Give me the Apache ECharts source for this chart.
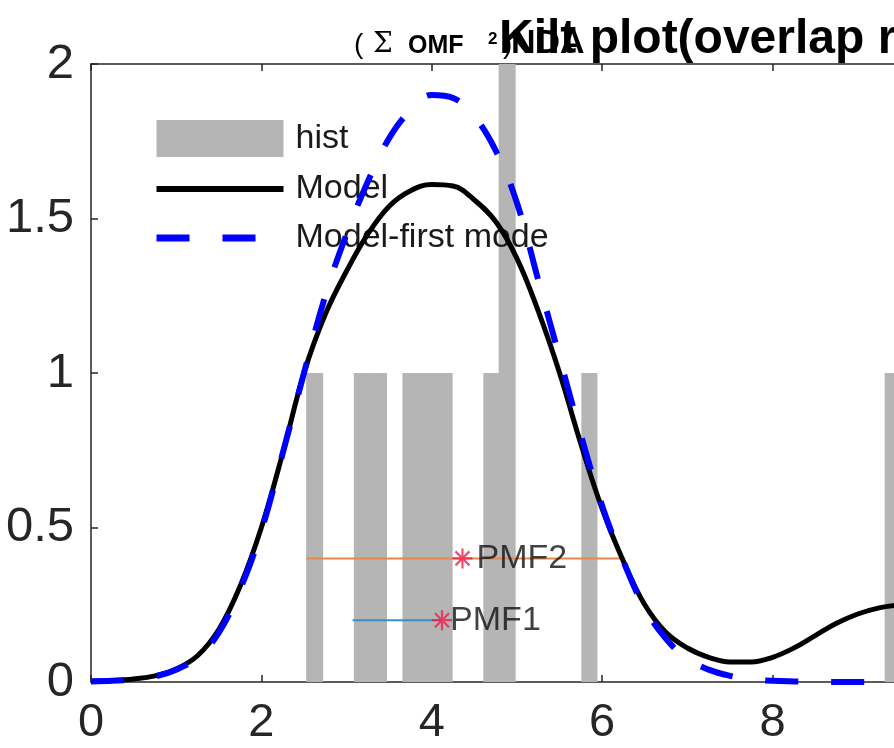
<!DOCTYPE html>
<html>
<head>
<meta charset="utf-8">
<script src="https://cdn.jsdelivr.net/npm/echarts@6/dist/echarts.min.js"></script>
<style>html,body{margin:0;padding:0;background:#fff;}#c{width:894px;height:748px;}</style>
</head>
<body>
<div id="c"></div>
<script>
// ---- data ----
const xGrid = [0,0.25,0.5,0.75,1,1.25,1.5,1.75,2,2.25,2.5,2.75,3,3.25,3.5,3.75,4,4.25,4.5,4.75,5,5.25,5.5,5.75,6,6.25,6.5,6.75,7,7.25,7.5,7.75,8,8.25,8.5,8.75,9,9.25,9.5,9.75];
const modelY = [0.003,0.005,0.01,0.02,0.042,0.085,0.17,0.31,0.5,0.74,1.0,1.19,1.33,1.45,1.54,1.59,1.61,1.605,1.56,1.49,1.37,1.2,1.0,0.77,0.56,0.39,0.25,0.16,0.11,0.08,0.065,0.065,0.08,0.11,0.15,0.19,0.22,0.24,0.25,0.255];
const firstModeY = [0.002,0.004,0.008,0.018,0.04,0.08,0.16,0.3,0.49,0.74,1.0,1.25,1.45,1.62,1.76,1.85,1.9,1.89,1.83,1.72,1.55,1.3,1.05,0.8,0.57,0.39,0.24,0.14,0.075,0.04,0.02,0.009,0.004,0.002,0.001,0,0,0,0,0];
const histStart = [2.53,3.09,3.28,3.66,3.85,4.04,4.61,4.79,5.76,9.32];
const histEnd   = [2.72,3.28,3.47,3.85,4.04,4.24,4.79,4.98,5.94,9.51];
const histCount = [1,1,1,1,1,1,1,2,1,1];
const pmfNames = ['PMF2','PMF1'];
const pmfStart = [2.53,3.07];
const pmfEnd   = [6.27,4.12];
const pmfLevel = [0.4,0.2];
const pmfPeak  = [4.36,4.12];
const xTicks = [0,2,4,6,8];
const yTicks = [0,0.5,1,1.5,2];

const FONT = '"Liberation Sans", Arial, Helvetica, sans-serif';
const chart = echarts.init(document.getElementById('c'), null, {renderer:'canvas'});

const histData = histStart.map((s,i)=>[s, histEnd[i], histCount[i]]);
const modelData = xGrid.map((x,i)=>[x, modelY[i]]);
const firstData = xGrid.map((x,i)=>[x, firstModeY[i]]);
const pmfColors = ['#e8874a','#3a8fc8'];
const starPath = 'path://M10,0L10,20M0,10L20,10M3,3L17,17M3,17L17,3';

const series = [
  {
    name:'hist', type:'custom', z:1,
    itemStyle:{color:'#b5b5b5'},
    encode:{x:[0,1], y:2},
    data: histData,
    renderItem:function(params, api){
      const a = api.coord([api.value(0), 0]);
      const b = api.coord([api.value(1), api.value(2)]);
      return {type:'rect', shape:{x:a[0]-0.4, y:b[1], width:b[0]-a[0]+0.8, height:a[1]-b[1]}, style:{fill:'#b5b5b5'}};
    }
  }
];
pmfNames.forEach((n,i)=>{
  series.push({
    name:n+'line', type:'line', z:3, silent:true, symbol:'none',
    lineStyle:{color:pmfColors[i], width:2},
    data:[[pmfStart[i], pmfLevel[i]], [pmfEnd[i], pmfLevel[i]]]
  });
});
series.push({
  name:'Model', type:'line', z:4, smooth:0.4, symbol:'none', showSymbol:false,
  lineStyle:{color:'#000', width:5}, itemStyle:{color:'#000'},
  data: modelData
});
series.push({
  name:'Model-first mode', type:'line', z:5, smooth:0.4, symbol:'none', showSymbol:false,
  lineStyle:{color:'#0000ff', width:6, type:[33,33]}, itemStyle:{color:'#0000ff'},
  data: firstData
});
series.push({
  name:'pmfStars', type:'scatter', z:6, silent:true,
  symbol: starPath, symbolSize:20,
  itemStyle:{color:'rgba(0,0,0,0)', borderColor:'#f0204a', borderWidth:2.2},
  data: pmfNames.map((n,i)=>({
    value:[pmfPeak[i], pmfLevel[i]],
    label:{show:true, formatter:n, position:'right', distance: i===0 ? 3 : -3,
      fontFamily:FONT, fontSize:34, color:'#111'}
  }))
});

chart.setOption({
  animation:false,
  backgroundColor:'#ffffff',
  grid:{left:91, width:823, top:64, bottom:66, containLabel:false, outerBoundsMode:'none'},
  xAxis:[
    {type:'value', min:0, max:9.66, interval:2, position:'bottom',
     axisLine:{show:true, lineStyle:{color:'#262626', width:1.5}},
     axisTick:{show:true, inside:true, length:7, lineStyle:{color:'#262626', width:1.5}},
     axisLabel:{show:true, margin:18, fontFamily:FONT, fontSize:47, color:'#262626',
       formatter:function(v){return xTicks.indexOf(v)>=0 ? String(v) : '';}},
     splitLine:{show:false}},
    {type:'value', min:0, max:9.66, interval:2, position:'top',
     axisLine:{show:true, onZero:false, lineStyle:{color:'#262626', width:1.5}},
     axisTick:{show:true, inside:true, length:7, lineStyle:{color:'#262626', width:1.5}},
     axisLabel:{show:false}, splitLine:{show:false}}
  ],
  yAxis:{type:'value', min:0, max:2, interval:0.5,
     axisLine:{show:true, lineStyle:{color:'#262626', width:1.5}},
     axisTick:{show:true, inside:true, length:7, lineStyle:{color:'#262626', width:1.5}},
     axisLabel:{show:true, margin:17, fontFamily:FONT, fontSize:49, color:'#262626',
       formatter:function(v){return yTicks.indexOf(v)>=0 ? String(v) : '';}},
     splitLine:{show:false}},
  legend:{
    left:153, top:120, orient:'vertical', padding:0, itemGap:15,
    itemWidth:127, itemHeight:37,
    textStyle:{fontFamily:FONT, fontSize:34, color:'#1a1a1a', padding:[0,0,0,7]},
    data:[
      {name:'hist', icon:'rect', itemStyle:{color:'#b5b5b5'}},
      {name:'Model', itemStyle:{opacity:0, color:'rgba(0,0,0,0)', borderWidth:0}, lineStyle:{color:'#000', width:6, type:'solid', opacity:1}},
      {name:'Model-first mode', itemStyle:{opacity:0, color:'rgba(0,0,0,0)', borderWidth:0}, lineStyle:{color:'#0000ff', width:7, type:[33,33], opacity:1}}
    ]
  },
  graphic:[
    {type:'text', x:499, y:40, z:10, style:{text:'Kilt plot(overlap ratio)', font:'bold 48px '+FONT, fill:'#000', verticalAlign:'middle'}},
    {type:'text', x:354, y:45, z:10, style:{text:'(', font:'28px '+FONT, fill:'#000', verticalAlign:'middle'}},
    {type:'text', x:373, y:45, z:10, style:{text:'Σ', font:'28px "DejaVu Serif", serif', fill:'#000', verticalAlign:'middle'}},
    {type:'text', x:408, y:46, z:10, style:{text:'OMF', font:'bold 25px '+FONT, fill:'#000', verticalAlign:'middle'}},
    {type:'text', x:488, y:39, z:10, style:{text:'2', font:'bold 17px '+FONT, fill:'#000', verticalAlign:'middle'}},
    {type:'text', x:503, y:45, z:10, style:{text:')', font:'28px '+FONT, fill:'#000', verticalAlign:'middle'}},
    {type:'text', x:511, y:44, z:10, style:{text:'NDA', font:'bold 34px '+FONT, fill:'#000', verticalAlign:'middle'}}
  ],
  series: series
});
</script>
</body>
</html>
